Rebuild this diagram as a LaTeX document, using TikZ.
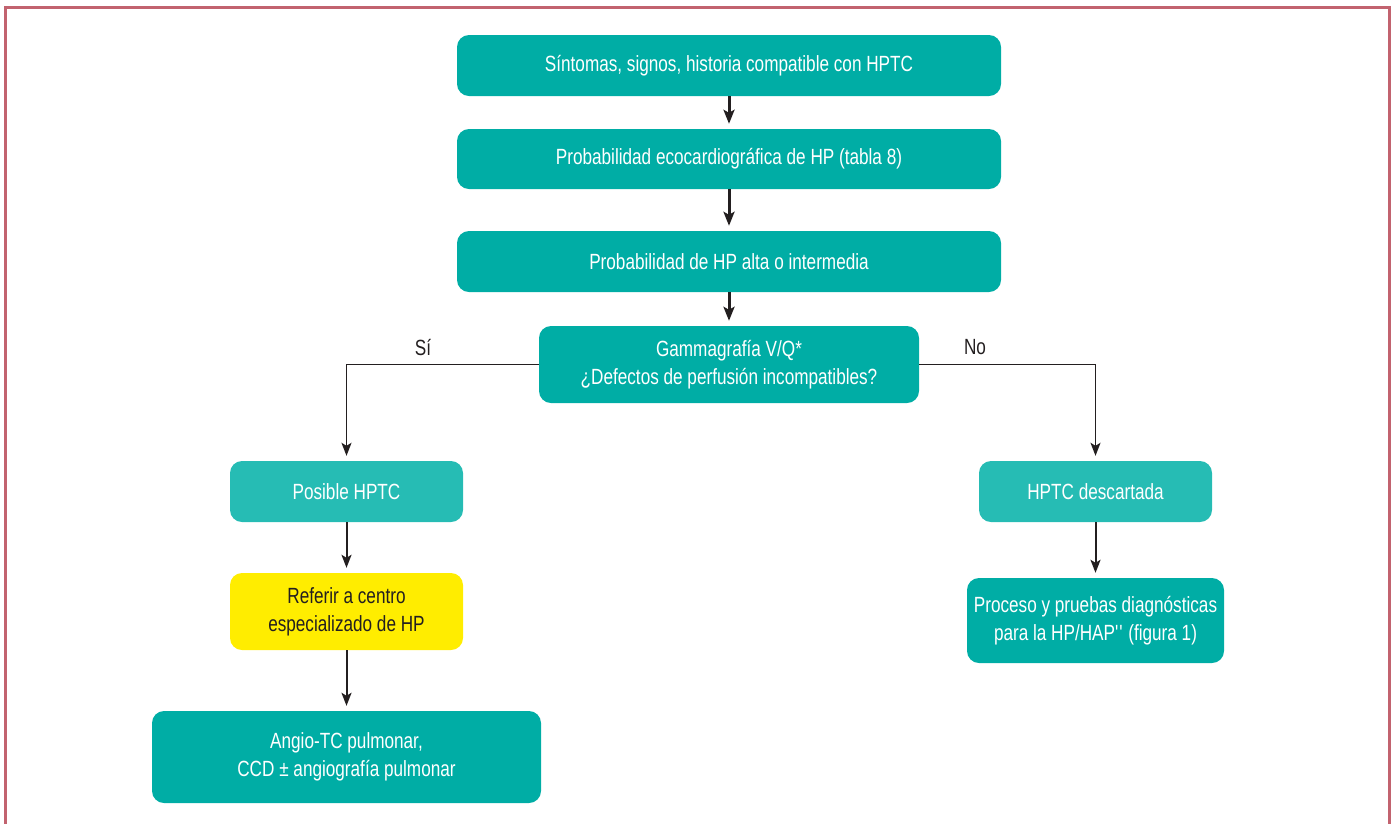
\documentclass[tikz,border=0pt]{standalone}
\usepackage{fontspec}
\setmainfont{Liberation Sans}[FakeStretch=0.78]
\usetikzlibrary{arrows.meta}
\definecolor{teal1}{HTML}{00ADA5}
\definecolor{teal2}{HTML}{26BCB4}
\definecolor{yel}{HTML}{FFED00}
\definecolor{frame}{HTML}{C2636F}
\definecolor{ink}{HTML}{231F20}
\tikzset{
  box/.style={draw=none, rounded corners=12pt, inner sep=0pt, align=center, font=\fontsize{22}{28}\selectfont, text=white},
  boxd/.style={box, fill=teal1},
  boxl/.style={box, fill=teal2},
  boxy/.style={box, fill=yel, text=ink},
  thick arr/.style={draw=ink, line width=3pt, -{Stealth[length=14pt,width=11pt,inset=3pt]}, shorten >=5pt},
  thin arr/.style={draw=ink, line width=2pt, -{Stealth[length=13pt,width=10pt,inset=3pt]}, shorten >=5pt},
  side/.style={draw=ink, line width=1.5pt, -{Stealth[length=13pt,width=10pt,inset=3pt]}, shorten >=5pt},
  lbl/.style={font=\fontsize{22}{26}\selectfont, text=ink}
}
\begin{document}
\begin{tikzpicture}[x=1pt,y=-1pt]
\useasboundingbox (0,0) rectangle (1395,823);
\draw[frame, line width=2.5pt] (5.5,830) -- (5.5,7.5) -- (1389.5,7.5) -- (1389.5,830);
\node[boxd, minimum width=544pt, minimum height=61pt] (b1) at (729,65.5) {Síntomas, signos, historia compatible con HPTC};
\node[boxd, minimum width=544pt, minimum height=60pt] (b2) at (729,159) {Probabilidad ecocardiográfica de HP (tabla 8)};
\node[boxd, minimum width=544pt, minimum height=61pt] (b3) at (729,261.5) {Probabilidad de HP alta o intermedia};
\node[boxd, minimum width=380pt, minimum height=77pt] (b4) at (729,364.5) {Gammagrafía V/Q*\\¿Defectos de perfusión incompatibles?};
\node[boxl, minimum width=233pt, minimum height=61pt] (b5) at (346.5,491.5) {Posible HPTC};
\node[boxy, minimum width=233pt, minimum height=77pt] (b6) at (346.5,611.5) {Referir a centro\\especializado de HP};
\node[boxd, minimum width=389pt, minimum height=92pt] (b7) at (346.5,757) {Angio-TC pulmonar,\\CCD ± angiografía pulmonar};
\node[boxl, minimum width=233pt, minimum height=61pt] (b8) at (1095.5,491.5) {HPTC descartada};
\node[boxd, minimum width=257pt, minimum height=85pt] (b9) at (1095.5,620.5) {Proceso y pruebas diagnósticas\\para la HP/HAP\textquotesingle\textquotesingle{} (figura 1)};
\draw[thick arr] (b1) -- (b2);
\draw[thick arr] (b2) -- (b3);
\draw[thick arr] (b3) -- (b4);
\draw[side] (b4.west) -| (b5.north);
\draw[side] (b4.east) -| (b8.north);
\draw[thin arr] (b5) -- (b6);
\draw[thin arr] (b6) -- (b7);
\draw[thin arr] (b8) -- (b9);
\node[lbl] (si) at (423,347) {Sí};
\node[lbl] (no) at (975,347) {No};
\end{tikzpicture}
\end{document}
